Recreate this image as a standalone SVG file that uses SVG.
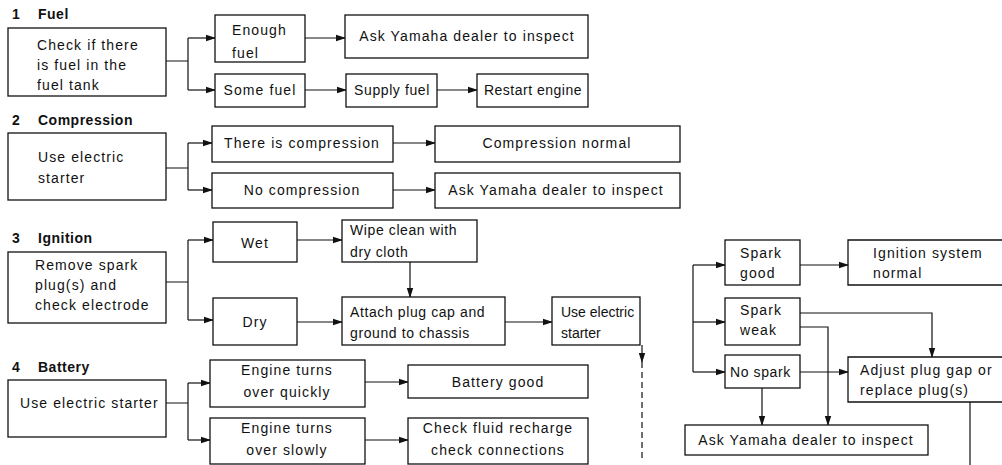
<svg xmlns="http://www.w3.org/2000/svg" width="1002" height="465" viewBox="0 0 1002 465">
<style>
.b{fill:#fff;stroke:#111;stroke-width:1.3}
.o{fill:none;stroke:#111;stroke-width:1.3}
.t{font-family:"Liberation Sans",Arial,sans-serif;font-size:14px;fill:#111;letter-spacing:1.1px}
.m{text-anchor:middle}
.h{font-weight:bold;letter-spacing:0.5px}
.c{fill:none;stroke:#111;stroke-width:1.2}
.a{marker-end:url(#ah)}
.d{stroke-dasharray:6 4}
</style>
<defs>
<marker id="ah" markerWidth="10" markerHeight="8" refX="9" refY="4" orient="auto" markerUnits="userSpaceOnUse"><path d="M0,0.8 L10,4 L0,7.2 z" fill="#111"/></marker>
</defs>
<rect width="1002" height="465" fill="#fff"/>

<g id="headers" class="t h">
<text x="12" y="19">1</text><text x="38" y="19">Fuel</text>
<text x="12" y="125">2</text><text x="38" y="125">Compression</text>
<text x="12" y="243">3</text><text x="38" y="243">Ignition</text>
<text x="12" y="372">4</text><text x="38" y="372">Battery</text>
</g>

<g id="connectors">
<path class="c" d="M166,61 H188 M188,38 V90"/>
<path class="c a" d="M188,38 H215"/>
<path class="c a" d="M188,90 H215"/>
<path class="c a" d="M305,38 H345"/>
<path class="c a" d="M305,90 H346"/>
<path class="c a" d="M437,90 H477"/>

<path class="c" d="M166,168 H188 M188,143 V190"/>
<path class="c a" d="M188,143 H212"/>
<path class="c a" d="M188,190 H212"/>
<path class="c a" d="M393,143 H435"/>
<path class="c a" d="M393,190 H435"/>

<path class="c" d="M166,282 H188 M188,240 V320"/>
<path class="c a" d="M188,240 H213"/>
<path class="c a" d="M188,320 H213"/>
<path class="c a" d="M297,240 H342"/>
<path class="c a" d="M410,262 V297"/>
<path class="c a" d="M297,322 H342"/>
<path class="c a" d="M505,322 H552"/>
<path class="c a" d="M642,345 V362"/>
<path class="c d" d="M642,362 V458"/>

<path class="c" d="M693,265 V372"/>
<path class="c a" d="M693,265 H725"/>
<path class="c a" d="M693,322 H725"/>
<path class="c a" d="M693,372 H725"/>
<path class="c a" d="M800,265 H848"/>
<path class="c a" d="M800,313 H932 V357"/>
<path class="c a" d="M800,327 H828 V425"/>
<path class="c a" d="M800,372 H848"/>
<path class="c a" d="M762,388 V425"/>
<path class="c" d="M970,402 V465"/>

<path class="c" d="M166,403 H188 M188,383 V440"/>
<path class="c a" d="M188,383 H210"/>
<path class="c a" d="M188,440 H210"/>
<path class="c a" d="M365,382 H408"/>
<path class="c a" d="M365,440 H408"/>
</g>

<g id="fuel-check"><rect class="b" x="8" y="28" width="158" height="68"/>
<text class="t" x="37" y="50">Check if there</text><text class="t" x="37" y="70">is fuel in the</text><text class="t" x="37" y="90">fuel tank</text></g>
<g id="enough-fuel"><rect class="b" x="215" y="15" width="90" height="47"/>
<text class="t" x="232" y="35">Enough</text><text class="t" x="232" y="58">fuel</text></g>
<g id="some-fuel"><rect class="b" x="215" y="74" width="90" height="33"/>
<text class="t m" x="260" y="95">Some fuel</text></g>
<g id="ask1"><rect class="b" x="345" y="15" width="243" height="43"/>
<text class="t m" x="467" y="41">Ask Yamaha dealer to inspect</text></g>
<g id="supply-fuel"><rect class="b" x="346" y="74" width="91" height="33"/>
<text class="t m" x="392" y="95" style="letter-spacing:0.6px">Supply fuel</text></g>
<g id="restart"><rect class="b" x="477" y="74" width="111" height="33"/>
<text class="t m" x="533" y="95" style="letter-spacing:0.5px">Restart engine</text></g>

<g id="comp-check"><rect class="b" x="8" y="133" width="158" height="67"/>
<text class="t" x="38" y="162">Use electric</text><text class="t" x="38" y="183">starter</text></g>
<g id="there-is-comp"><rect class="b" x="212" y="126" width="181" height="36"/>
<text class="t m" x="302" y="148">There is compression</text></g>
<g id="no-comp"><rect class="b" x="212" y="173" width="181" height="35"/>
<text class="t m" x="302" y="195">No compression</text></g>
<g id="comp-normal"><rect class="b" x="435" y="126" width="245" height="36"/>
<text class="t m" x="557" y="148">Compression normal</text></g>
<g id="ask2"><rect class="b" x="435" y="173" width="245" height="35"/>
<text class="t m" x="556" y="195">Ask Yamaha dealer to inspect</text></g>

<g id="ign-check"><rect class="b" x="8" y="252" width="158" height="71"/>
<text class="t" x="35" y="270">Remove spark</text><text class="t" x="35" y="290">plug(s) and</text><text class="t" x="35" y="310">check electrode</text></g>
<g id="wet"><rect class="b" x="213" y="222" width="84" height="40"/>
<text class="t m" x="255" y="248">Wet</text></g>
<g id="dry"><rect class="b" x="213" y="298" width="84" height="47"/>
<text class="t m" x="255" y="327">Dry</text></g>
<g id="wipe"><rect class="b" x="342" y="220" width="135" height="42"/>
<text class="t" x="350" y="235" style="letter-spacing:0.6px">Wipe clean with</text><text class="t" x="350" y="257" style="letter-spacing:0.6px">dry cloth</text></g>
<g id="attach"><rect class="b" x="342" y="297" width="163" height="48"/>
<text class="t" x="350" y="317" style="letter-spacing:0.6px">Attach plug cap and</text><text class="t" x="350" y="338" style="letter-spacing:0.6px">ground to chassis</text></g>
<g id="use-starter"><rect class="b" x="552" y="297" width="88" height="48"/>
<text class="t" x="561" y="317" style="letter-spacing:0px">Use electric</text><text class="t" x="561" y="338" style="letter-spacing:0px">starter</text></g>

<g id="spark-good"><rect class="b" x="725" y="240" width="75" height="45"/>
<text class="t" x="740" y="258">Spark</text><text class="t" x="740" y="278">good</text></g>
<g id="ign-normal"><path class="o" d="M1002,240 H848 V285 H1002"/>
<text class="t" x="873" y="258">Ignition system</text><text class="t" x="873" y="278">normal</text></g>
<g id="spark-weak"><rect class="b" x="725" y="298" width="75" height="47"/>
<text class="t" x="740" y="315">Spark</text><text class="t" x="740" y="335">weak</text></g>
<g id="no-spark"><rect class="b" x="725" y="355" width="75" height="33"/>
<text class="t" x="730" y="377" style="letter-spacing:0.6px">No spark</text></g>
<g id="adjust"><path class="o" d="M1002,357 H848 V402 H1002"/>
<text class="t" x="860" y="375">Adjust plug gap or</text><text class="t" x="860" y="395">replace plug(s)</text></g>
<g id="ask3"><rect class="b" x="685" y="425" width="243" height="30"/>
<text class="t m" x="806" y="445">Ask Yamaha dealer to inspect</text></g>

<g id="bat-check"><rect class="b" x="8" y="380" width="158" height="57"/>
<text class="t" x="20" y="408">Use electric starter</text></g>
<g id="turns-quick"><rect class="b" x="210" y="360" width="155" height="47"/>
<text class="t m" x="287" y="375">Engine turns</text><text class="t m" x="287" y="397">over quickly</text></g>
<g id="turns-slow"><rect class="b" x="210" y="418" width="155" height="46"/>
<text class="t m" x="287" y="433">Engine turns</text><text class="t m" x="287" y="455">over slowly</text></g>
<g id="bat-good"><rect class="b" x="408" y="365" width="180" height="33"/>
<text class="t m" x="498" y="387">Battery good</text></g>
<g id="check-fluid"><rect class="b" x="408" y="418" width="180" height="46"/>
<text class="t m" x="498" y="433">Check fluid recharge</text><text class="t m" x="498" y="455">check connections</text></g>
</svg>
